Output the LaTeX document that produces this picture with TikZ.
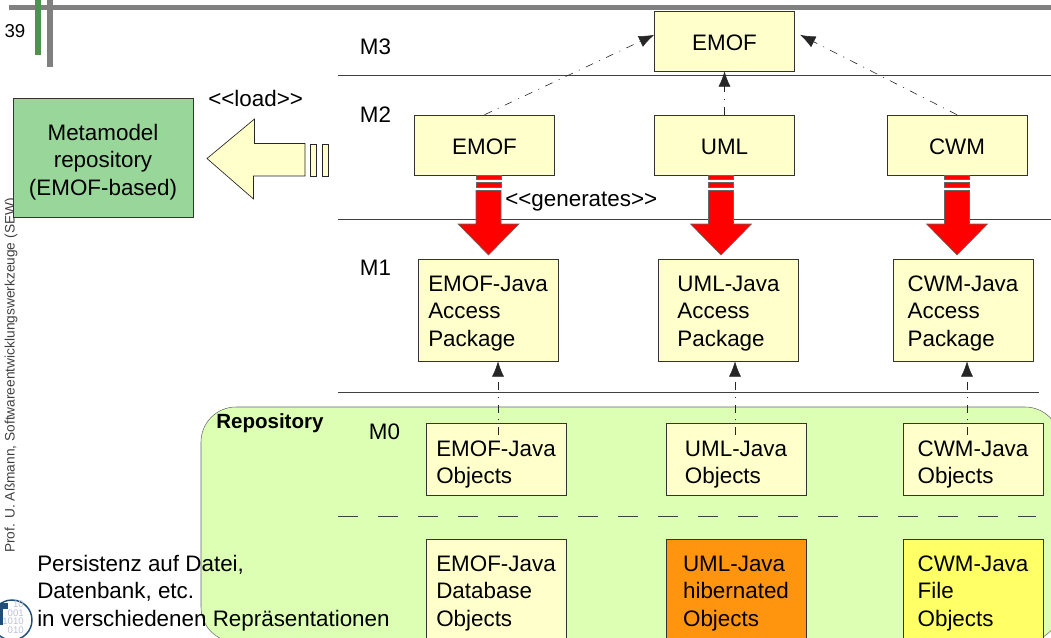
\documentclass[tikz,border=0pt]{standalone}
\usepackage{fontspec}
\setmainfont{Liberation Sans}
\usetikzlibrary{arrows.meta}
\definecolor{myYellow}{HTML}{FFFFCC}
\definecolor{myGreen}{HTML}{99D699}
\definecolor{myRepo}{HTML}{DCFFB3}
\definecolor{myOrange}{HTML}{FF950E}
\definecolor{myFile}{HTML}{FFFF66}
\definecolor{myBar}{HTML}{808080}
\definecolor{myBlue}{HTML}{1F4E79}
\newcommand{\labelfont}{\fontsize{16.8}{20.6}\selectfont}
\newcommand{\acctop}{\rule{0pt}{16.5pt}}
\newcommand{\objtop}{\rule{0pt}{20pt}}
\tikzset{
	metabox/.style = {draw=black!80, fill=myYellow, minimum width=105pt, minimum height=45pt, text height=14pt, font=\labelfont},
	accbox/.style = {draw=black!80, fill=myYellow, minimum width=105pt, minimum height=76.5pt, align=left, font=\labelfont},
	objbox/.style = {accbox, minimum height=54pt},
	level/.style = {font=\labelfont},
	levelline/.style = {draw=black!75, line width=0.7pt},
	dep/.style = {-{Latex[length=11.5pt,width=9pt]}, black!85, line width=0.45pt, dash pattern=on 6pt off 5pt on 0.8pt off 5pt},
	genbar/.style = {draw=black!60, fill=red, line width=0.4pt},
	loadbar/.style = {draw=black!85, fill=myYellow, line width=0.5pt},
	genarrow/.pic = {
		\draw[genbar] (-12.5,0) rectangle (12.5,4);
		\draw[genbar] (-12.5,7.5) rectangle (12.5,12);
		\draw[genbar] (-12.5,15.5) -- (12.5,15.5) -- (12.5,49) -- (30.5,49) -- (0,80) -- (-30.5,49) -- (-12.5,49) -- cycle;
	}
}
\begin{document}
\begin{tikzpicture}[x=0.75pt, y=-0.75pt]
	\useasboundingbox (0,0) rectangle (1051,637);
	
	% Rahmen
	\fill[myBar] (9,4.5) rectangle (1051,9.5);
	\fill[myBar] (47,0) rectangle (53,67);
	\fill[green!40!black!70!white] (35,0) rectangle (41,55);
	\node[font=\fontsize{14}{16}\selectfont] (pagenum) at (15,31) {39};
	\node[font=\fontsize{10.3}{13}\selectfont, text=black!75, rotate=90, anchor=west, inner sep=0pt] (author) at (11,553) {Prof. U. Aßmann, Softwareentwicklungswerkzeuge (SEW)};
	
	% Logo
	\draw[myBlue, line width=1.1pt] (12,620) circle (20);
	\fill[myBlue] (0,603) rectangle (8,609);
	\fill[myBlue] (0,603) rectangle (2.5,625);
	\node[font=\fontsize{7.2}{6.4}\selectfont, text=blue!25!gray!40, align=right, anchor=north east, inner sep=0pt] (logobits) at (24,600.5) {10\\001\\1010\\010};
	
	% Repository
	\path[draw=black!60, fill=myRepo, rounded corners=35*0.75pt] (201,407) rectangle (1060,642);
	\node[font=\fontsize{15.4}{18}\selectfont\bfseries, anchor=west, inner sep=0pt] (repo) at (216,423) {Repository};
	
	% Ebenen
	\coordinate (a3) at (338,75);
	\coordinate (b3) at (1051,75);
	\coordinate (a2) at (338,219);
	\coordinate (b2) at (1051,219);
	\coordinate (a1) at (338,392);
	\coordinate (b1) at (1039,392);
	\coordinate (a0) at (338,516);
	\coordinate (b0) at (1036,516);
	\draw[levelline] (a3) -- (b3);
	\draw[levelline] (a2) -- (b2);
	\draw[levelline] (a1) -- (b1);
	\draw[levelline, dash pattern=on 15pt off 15pt] (a0) -- (b0);
	\node[level] (m3) at (375.5,47) {M3};
	\node[level] (m2) at (375.5,115) {M2};
	\node[level] (m1) at (375.5,268) {M1};
	\node[level] (m0) at (384.5,432) {M0};
	
	% Knoten
	\node[metabox] (emofTop) at (724.5,41) {EMOF};
	\node[metabox] (emofMeta) at (484.5,145) {EMOF};
	\node[metabox] (umlMeta) at (724.5,145) {UML};
	\node[metabox] (cwmMeta) at (957,145) {CWM};
	\node[accbox] (emofAcc) at (488,310) {\acctop EMOF-Java\\Access\\Package};
	\node[accbox] (umlAcc) at (728.5,310) {\acctop UML-Java\\Access\\Package};
	\node[accbox] (cwmAcc) at (963,310) {\acctop CWM-Java\\Access\\Package};
	\node[objbox] (emofObj) at (496,459) {\objtop EMOF-Java\\Objects};
	\node[objbox] (umlObj) at (736,459) {\objtop UML-Java\\Objects};
	\node[objbox] (cwmObj) at (973,459) {\objtop CWM-Java\\Objects};
	\node[accbox] (emofDb) at (496,590) {\acctop EMOF-Java\\Database\\Objects};
	\node[accbox, fill=myOrange] (umlDb) at (736,590) {\acctop UML-Java\\hibernated\\Objects};
	\node[accbox, fill=myFile] (cwmDb) at (973,590) {\acctop CWM-Java\\File\\Objects};
	\node[accbox, fill=myGreen, minimum width=135pt, minimum height=89.5pt, align=center] (meta) at (103,157.5) {\rule{0pt}{18.8pt}Metamodel\\repository\\(EMOF-based)};
	
	% Kanten
	\draw[dep] (emofMeta.north) -- (emofTop.175);
	\draw[dep] (umlMeta.north) -- (emofTop.south);
	\draw[dep] (cwmMeta.north) -- ([xshift=4pt]emofTop.5);
	\coordinate (emofLink) at (498,435);
	\coordinate (umlLink) at (735,435);
	\coordinate (cwmLink) at (967,435);
	\draw[dep] (emofLink) -- (emofLink |- emofAcc.south);
	\draw[dep] (umlLink) -- (umlLink |- umlAcc.south);
	\draw[dep] (cwmLink) -- (cwmLink |- cwmAcc.south);
	\pic (emofGen) at (488.5,175) {genarrow};
	\pic (umlGen) at (721,175) {genarrow};
	\pic (cwmGen) at (957,175) {genarrow};
	
	% load
	\draw[loadbar] (305,143.5) -- (254.5,143.5) -- (254.5,119) -- (207,158.5) -- (253.5,199) -- (253.5,176) -- (305,176) -- cycle;
	\draw[loadbar] (310.5,144) rectangle (316,176);
	\draw[loadbar] (322,144) rectangle (328,176);
	\node[level, anchor=west, inner sep=0pt] (load) at (208,98) {<{}<load>{}>};
	\node[level, anchor=west, inner sep=0pt] (gen) at (505,202) {<{}<generates>{}>};
	
	% Text
	\node[font=\labelfont, align=left, anchor=north west, inner sep=0pt] (persist) at (37,555) {Persistenz auf Datei,\\Datenbank, etc.\\in verschiedenen Repräsentationen};
\end{tikzpicture}
\end{document}
